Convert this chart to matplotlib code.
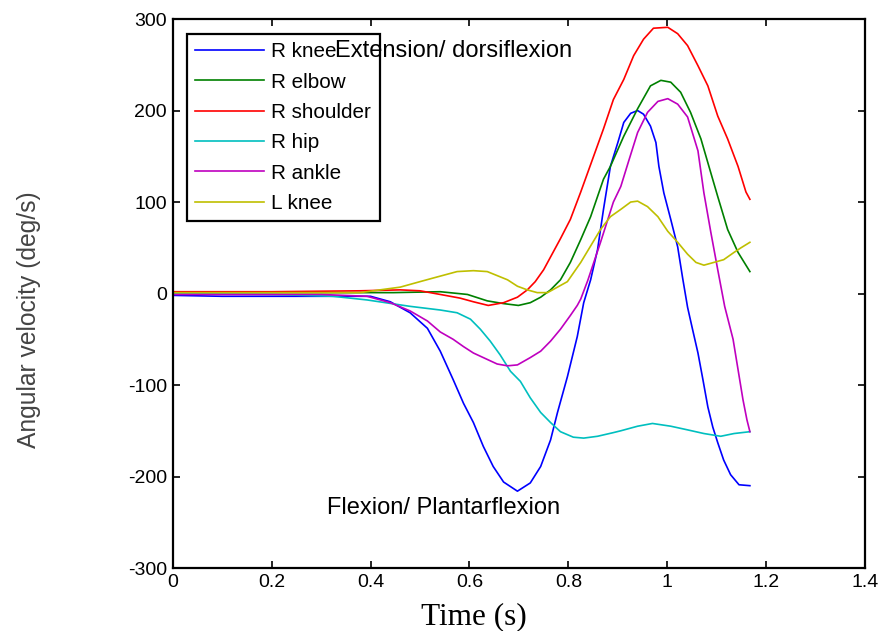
import numpy as np
import matplotlib
matplotlib.use("Agg")
import matplotlib.pyplot as plt

# joint angular velocity traces (deg/s)
t_rknee = [0, 0.1, 0.2, 0.3, 0.35, 0.40, 0.44, 0.48, 0.515, 0.541, 0.567, 0.588, 0.608, 0.628,
           0.648, 0.669, 0.697, 0.723, 0.744, 0.764, 0.778, 0.798, 0.818, 0.831, 0.845, 0.859,
           0.871, 0.885, 0.900, 0.912, 0.926, 0.940, 0.952, 0.966, 0.977, 0.983, 0.993, 1.007,
           1.021, 1.031, 1.041, 1.051, 1.062, 1.072, 1.082, 1.092, 1.102, 1.114, 1.128, 1.145,
           1.167]
v_rknee = [-2, -3, -3, -3, -3, -3, -9, -21, -38, -63, -94, -120, -141, -167,
           -189, -206, -216, -207, -189, -160, -130, -91, -47, -10, 15, 48,
           92, 139, 165, 187, 197, 200, 196, 183, 165, 139, 110, 81,
           51, 17, -15, -39, -65, -94, -124, -146, -163, -182, -198, -209,
           -210]

t_relbow = [0, 0.2, 0.379, 0.446, 0.541, 0.596, 0.636, 0.669, 0.699, 0.723, 0.744, 0.764,
            0.784, 0.804, 0.825, 0.845, 0.871, 0.885, 0.912, 0.940, 0.966, 0.987, 1.007,
            1.027, 1.047, 1.068, 1.082, 1.102, 1.122, 1.143, 1.167]
v_relbow = [1, 1, 1, 1, 2, -1, -8, -11, -13, -10, -4, 4,
            15, 34, 59, 84, 125, 139, 172, 202, 227, 233, 231,
            220, 198, 169, 143, 106, 70, 45, 24]

t_rshoulder = [0, 0.2, 0.38, 0.46, 0.50, 0.541, 0.581, 0.608, 0.638, 0.669, 0.697, 0.717,
               0.733, 0.750, 0.784, 0.804, 0.825, 0.845, 0.871, 0.891, 0.912, 0.932, 0.952,
               0.972, 1.001, 1.021, 1.041, 1.062, 1.082, 1.102, 1.122, 1.143, 1.159, 1.167]
v_rshoulder = [2, 2, 3, 4, 3, -1, -5, -9, -13, -10, -4, 4,
               13, 26, 60, 81, 111, 141, 180, 212, 234, 260, 278,
               290, 291, 284, 271, 249, 227, 194, 169, 139, 111, 103]

t_rhip = [0, 0.2, 0.324, 0.393, 0.480, 0.541, 0.575, 0.602, 0.622, 0.642, 0.662, 0.683,
          0.703, 0.723, 0.744, 0.764, 0.784, 0.810, 0.831, 0.859, 0.891, 0.906, 0.940,
          0.970, 1.007, 1.041, 1.074, 1.108, 1.135, 1.167]
v_rhip = [0, -1, -3, -7, -14, -18, -21, -28, -39, -52, -67, -85,
          -96, -114, -130, -141, -151, -157, -158, -156, -152, -150, -145,
          -142, -145, -149, -153, -156, -153, -151]

t_rankle = [0, 0.1, 0.2, 0.3, 0.393, 0.440, 0.480, 0.515, 0.541, 0.567, 0.588, 0.608, 0.636,
            0.656, 0.677, 0.697, 0.723, 0.744, 0.764, 0.784, 0.804, 0.818, 0.825, 0.839,
            0.865, 0.891, 0.906, 0.922, 0.940, 0.960, 0.981, 1.001, 1.021, 1.041, 1.062,
            1.074, 1.088, 1.102, 1.116, 1.133, 1.143, 1.153, 1.161, 1.167]
v_rankle = [-1, -1, -1, -1, -3, -10, -19, -30, -42, -50, -58, -65, -72,
            -77, -79, -78, -70, -63, -52, -39, -24, -13, -6, 14,
            56, 100, 117, 145, 176, 198, 210, 213, 207, 193, 156,
            110, 67, 26, -14, -50, -83, -116, -138, -151]

t_lknee = [0, 0.2, 0.3, 0.379, 0.419, 0.460, 0.500, 0.527, 0.575, 0.608, 0.636, 0.677,
           0.697, 0.717, 0.737, 0.758, 0.778, 0.798, 0.825, 0.845, 0.865, 0.885, 0.906,
           0.926, 0.940, 0.960, 0.981, 1.001, 1.021, 1.041, 1.058, 1.074, 1.094, 1.114,
           1.135, 1.149, 1.167]
v_lknee = [1, 1, 1, 1, 4, 7, 13, 17, 24, 25, 24, 15,
           8, 4, 1, 1, 7, 13, 34, 52, 70, 84, 92,
           100, 101, 95, 84, 68, 56, 43, 34, 31, 34, 37,
           45, 50, 56]

series = [
    ("R knee", t_rknee, v_rknee, "#0000ff"),
    ("R elbow", t_relbow, v_relbow, "#008000"),
    ("R shoulder", t_rshoulder, v_rshoulder, "#ff0000"),
    ("R hip", t_rhip, v_rhip, "#00bfbf"),
    ("R ankle", t_rankle, v_rankle, "#bf00bf"),
    ("L knee", t_lknee, v_lknee, "#bfbf00"),
]

x_ticks = [0, 0.2, 0.4, 0.6, 0.8, 1, 1.2, 1.4]
x_tick_labels = ["0", "0.2", "0.4", "0.6", "0.8", "1", "1.2", "1.4"]
y_ticks = [-300, -200, -100, 0, 100, 200, 300]

plt.rcParams['font.family'] = ['Liberation Sans', 'DejaVu Sans']
plt.rcParams['axes.unicode_minus'] = False

fig = plt.figure(figsize=(8.81, 6.31), dpi=100)
ax = fig.add_axes([0.196, 0.0998, 0.786, 0.870])

for label, t, v, color in series:
    ax.plot(t, v, color=color, lw=1.2, label=label)

ax.set_xlim(0, 1.4)
ax.set_ylim(-300, 300)
ax.set_xticks(x_ticks)
ax.set_xticklabels(x_tick_labels)
ax.set_yticks(y_ticks)
ax.tick_params(direction='in', top=True, right=True, length=5, width=1.2,
               labelsize=14, pad=4)
for s in ax.spines.values():
    s.set_linewidth(1.6)

ax.text(0.328, 265, "Extension/ dorsiflexion", fontsize=17, va='center', ha='left', zorder=10)
ax.text(0.312, -234, "Flexion/ Plantarflexion", fontsize=17, va='center', ha='left', zorder=10)

ax.set_xlabel("Time (s)", family='Liberation Serif', fontsize=22.5)
ax.xaxis.set_label_coords(0.435, -0.063)
ax.set_ylabel("Angular velocity (deg/s)", fontsize=17.7, color='#444444')
ax.yaxis.set_label_coords(-0.19, 0.452)

leg = ax.legend(loc='upper left', bbox_to_anchor=(0.02, 0.973), borderaxespad=0,
                fontsize=14.9, handlelength=3.35, handletextpad=0.35, labelspacing=0.55,
                borderpad=0.4, fancybox=False, framealpha=1)
leg.get_frame().set_edgecolor('black')
leg.get_frame().set_linewidth(1.6)

fig.savefig("out.png", dpi=100)
